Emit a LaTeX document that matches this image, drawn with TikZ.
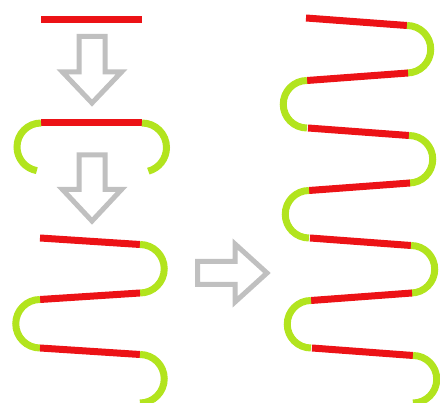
\documentclass[tikz,border=0pt]{standalone}
\usetikzlibrary{calc}
\definecolor{strandred}{RGB}{236,18,22}
\definecolor{loopgreen}{RGB}{178,228,30}
\definecolor{arrowgray}{RGB}{192,192,192}
\tikzset{
  redseg/.style={draw=strandred, line width=7pt, line cap=butt},
  greenseg/.style={draw=loopgreen, line width=7pt, line cap=butt},
  hollowarrow/.style={draw=arrowgray, line width=5pt, fill=white, line join=miter}
}
\begin{document}
\begin{tikzpicture}[x=1pt, y=-1pt]
  \useasboundingbox (0,0) rectangle (440,403);
  \clip (0,0) rectangle (440,403);

  % straight strand
  \draw[redseg] (41,19.5) -- (142,19.5);

  % first down arrow
  \draw[hollowarrow] (79,36.5) -- (105,36.5) -- (105,72) -- (121.5,72)
    -- (92,103) -- (62.5,72) -- (79,72) -- cycle;

  % strand with both ends bent
  \draw[redseg] (41,123) -- (142,123);
  \draw[greenseg] (41,123) arc[start angle=270, end angle=100, radius=24];
  \draw[greenseg] (142,123) arc[start angle=-90, end angle=75, radius=24.5];

  % second down arrow
  \draw[hollowarrow] (79,155) -- (105,155) -- (105,189.5) -- (121.5,189.5)
    -- (92,221) -- (62.5,189.5) -- (79,189.5) -- cycle;

  % short folded strand: three straight rows
  \foreach \i in {0,1,2} {
    \pgfmathsetmacro{\ys}{238+55*\i}
    \pgfmathsetmacro{\ye}{244.5+55*\i}
    \ifodd\i
      \draw[redseg] (140,\ys) -- (40,\ye);
      \draw[greenseg] (40,\ye) arc[start angle=270, end angle=90, radius=24.25];
    \else
      \draw[redseg] (40,\ys) -- (140,\ye);
      \draw[greenseg] (140,\ye) arc[start angle=-90, end angle=90, radius=24.25];
    \fi
  }

  % right arrow
  \draw[hollowarrow] (197.5,261.5) -- (235,261.5) -- (235,244) -- (267,273)
    -- (235,302) -- (235,284.5) -- (197.5,284.5) -- cycle;

  % long folded strand: seven straight rows
  \foreach \i in {0,...,6} {
    \pgfmathsetmacro{\ys}{18+55*\i}
    \pgfmathsetmacro{\ye}{25.5+55*\i}
    \pgfmathsetmacro{\xl}{306+\i}
    \pgfmathsetmacro{\xr}{407+\i}
    \ifodd\i
      \draw[redseg] (\xr,\ys) -- (\xl,\ye);
      \draw[greenseg] (\xl,\ye) arc[start angle=270, end angle=90, radius=23.75];
    \else
      \draw[redseg] (\xl,\ys) -- (\xr,\ye);
      \draw[greenseg] (\xr,\ye) arc[start angle=-90, end angle=90, radius=23.75];
    \fi
  }
\end{tikzpicture}
\end{document}
